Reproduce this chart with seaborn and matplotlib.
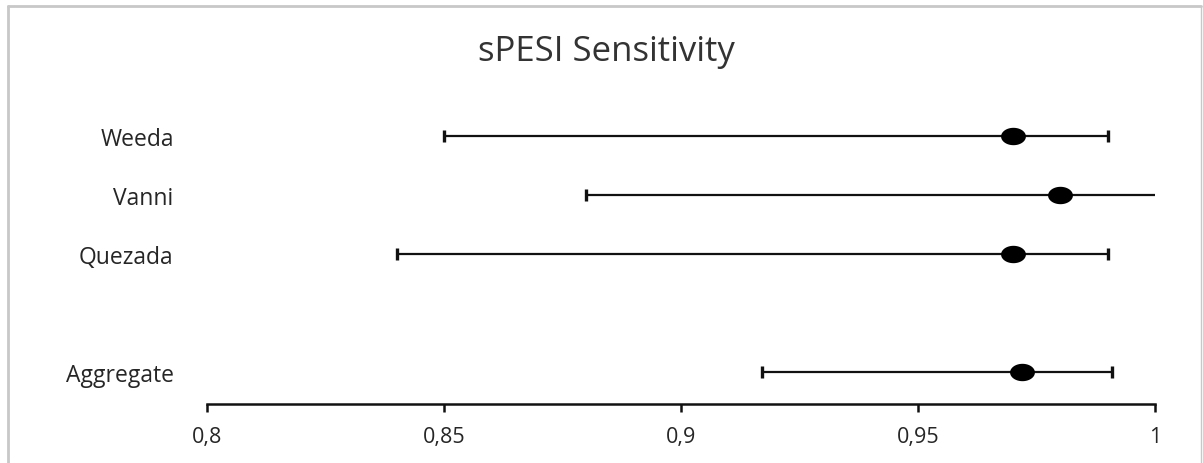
import numpy as np
import pandas as pd
import matplotlib
matplotlib.use("Agg")
import matplotlib.pyplot as plt
from matplotlib.path import Path
from matplotlib.lines import Line2D
import seaborn as sns

studies = ["Weeda", "Vanni", "Quezada", "Aggregate"]
positions = [0, 1, 2, 4]
estimate = [0.97, 0.98, 0.97, 0.972]
ci_low = [0.85, 0.88, 0.84, 0.917]
ci_high = [0.99, 1.00, 0.99, 0.991]
xticks = [0.8, 0.85, 0.9, 0.95, 1.0]
xticklabels = ["0,8", "0,85", "0,9", "0,95", "1"]
title = "sPESI Sensitivity"

sns.set_theme(style="white")
plt.rcParams["font.family"] = ["Open Sans", "DejaVu Sans"]

df = pd.DataFrame({"study": studies, "pos": positions, "est": estimate,
                   "lo": ci_low, "hi": ci_high})

fig = plt.figure(figsize=(12.03, 4.64), dpi=100)
ax = fig.add_axes([207 / 1203, 1 - 405 / 464, (1155 - 207) / 1203, (405 - 78) / 464])

xmin, xmax = 0.8, 1.0
ink = "#111111"
# whiskers
ax.hlines(df["pos"], df["lo"], df["hi"], color=ink, lw=1.6, zorder=2)
# caps (not drawn where the interval reaches the axis limit)
for _, r in df.iterrows():
    for v in (r["lo"], r["hi"]):
        if xmin < v < xmax:
            ax.vlines(v, r["pos"] - 0.1, r["pos"] + 0.1, color=ink, lw=2.4, zorder=2)

# elliptical marker
t = np.linspace(0, 2 * np.pi, 60)
ell = Path(np.column_stack([np.cos(t), 0.7 * np.sin(t)]), closed=True)
sns.scatterplot(data=df, x="est", y="pos", marker=ell, s=320, color="black",
                edgecolor="black", linewidth=0, zorder=3, ax=ax, legend=False)

ax.set_xlim(xmin, xmax)
ax.set_ylim(4.54, -1)
ax.set_yticks(positions)
ax.set_yticklabels(studies, fontsize=16.5, color="#262626")
ax.set_xticks(xticks)
ax.set_xticklabels(xticklabels, fontsize=15.5, color="#262626")
ax.set_xlabel("")
ax.set_ylabel("")
for s in ("top", "right", "left"):
    ax.spines[s].set_visible(False)
ax.spines["bottom"].set_color(ink)
ax.spines["bottom"].set_linewidth(1.8)
ax.tick_params(axis="x", direction="out", length=6, width=1.8, color=ink, pad=9.5, bottom=True)
ax.tick_params(axis="y", length=0, pad=24)
ax.grid(False)

fig.text(606 / 1203, 1 - 52 / 464, title, ha="center", va="center", fontsize=25, color="#333333")

# outer chart border (left, top, right)
bc = "#c8c8c8"
fig.add_artist(Line2D([8 / 1203, 8 / 1203], [0, 1 - 7 / 464], transform=fig.transFigure, color=bc, lw=2))
fig.add_artist(Line2D([8 / 1203, 1201 / 1203], [1 - 7 / 464, 1 - 7 / 464], transform=fig.transFigure, color=bc, lw=2))
fig.add_artist(Line2D([1201 / 1203, 1201 / 1203], [0, 1 - 7 / 464], transform=fig.transFigure, color=bc, lw=1))

fig.savefig("out.png", dpi=100)
